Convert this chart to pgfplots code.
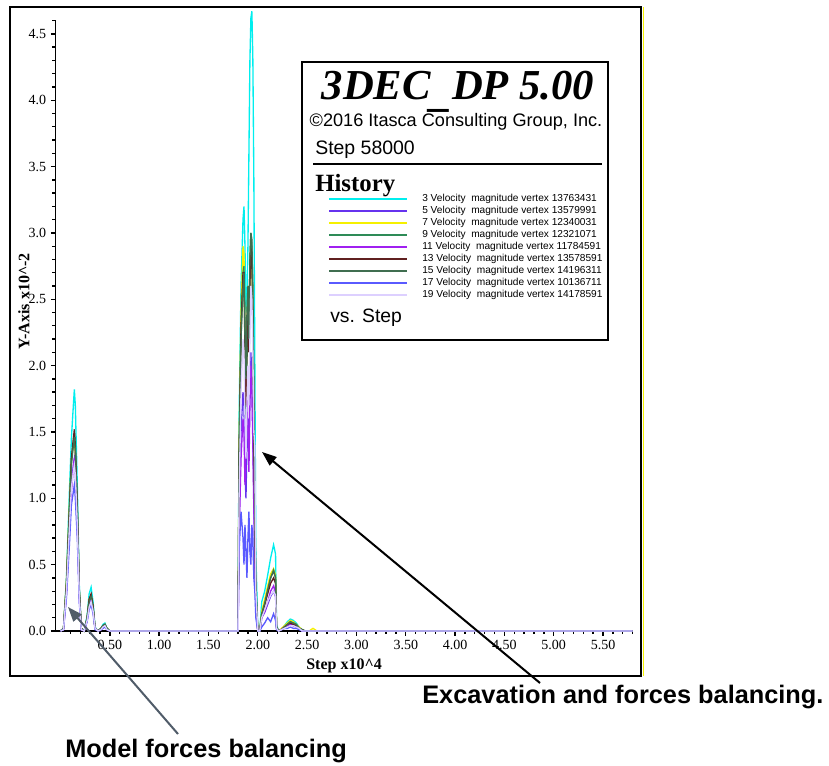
\documentclass[border=0pt]{standalone}
\usepackage{fontspec}
\setmainfont{Liberation Serif}
\newfontfamily\arial{Liberation Sans}
\usepackage{pgfplots}
\pgfplotsset{compat=1.18}
\usepackage{pgfplotstable}
\usetikzlibrary{arrows.meta}

\definecolor{c3}{RGB}{0,238,238}
\definecolor{c5}{RGB}{102,51,238}
\definecolor{c7}{RGB}{245,240,0}
\definecolor{c9}{RGB}{46,139,87}
\definecolor{c11}{RGB}{160,32,240}
\definecolor{c13}{RGB}{96,32,32}
\definecolor{c15}{RGB}{64,110,80}
\definecolor{c17}{RGB}{90,90,255}
\definecolor{c19}{RGB}{221,208,255}
\definecolor{arrowgray}{RGB}{80,92,105}

\pgfplotstableread{
x    c3   c5   c7   c9   c11  c13  c15  c17  c19
0.00 0    0    0    0    0    0    0    0    0
0.03 0.02 0.01 0.02 0.02 0.01 0.02 0.02 0.01 0.01
0.06 0.40 0.30 0.38 0.35 0.28 0.36 0.34 0.25 0.30
0.09 1.05 0.80 0.95 0.90 0.75 0.92 0.88 0.65 0.78
0.11 1.45 1.10 1.30 1.28 1.05 1.30 1.25 0.95 1.08
0.13 1.70 1.25 1.40 1.42 1.22 1.45 1.40 1.05 1.20
0.14 1.82 1.30 1.42 1.48 1.30 1.52 1.46 1.10 1.25
0.15 1.70 1.20 1.35 1.38 1.22 1.40 1.36 1.00 1.18
0.17 1.10 0.80 0.90 0.92 0.82 0.95 0.90 0.70 0.80
0.19 0.35 0.25 0.30 0.30 0.26 0.32 0.30 0.22 0.25
0.21 0.02 0.01 0.02 0.02 0.01 0.02 0.02 0.01 0.01
0.24 0    0    0    0    0    0    0    0    0
0.27 0.12 0.08 0.10 0.10 0.08 0.10 0.10 0.07 0.08
0.29 0.28 0.20 0.24 0.23 0.19 0.24 0.22 0.16 0.18
0.31 0.33 0.24 0.27 0.27 0.23 0.28 0.26 0.20 0.22
0.33 0.22 0.16 0.18 0.18 0.15 0.19 0.17 0.13 0.15
0.35 0.03 0.02 0.02 0.02 0.02 0.02 0.02 0.01 0.02
0.38 0    0    0    0    0    0    0    0    0
0.41 0.02 0.01 0.02 0.02 0.01 0.02 0.02 0.01 0.01
0.43 0.05 0.03 0.04 0.04 0.03 0.04 0.04 0.02 0.03
0.45 0.06 0.04 0.05 0.05 0.04 0.05 0.05 0.03 0.04
0.47 0.02 0.01 0.02 0.02 0.01 0.02 0.02 0.01 0.01
0.50 0    0    0    0    0    0    0    0    0
1.78 0    0    0    0    0    0    0    0    0
1.80 0    0    0    0    0    0    0    0    0
1.81 1.6  0.8  1.4  1.2  0.7  1.3  1.3  0.6  1.0
1.83 2.6  1.5  2.4  2.2  1.3  2.3  2.2  0.9  1.8
1.85 3.1  1.8  2.9  2.7  1.6  2.7  2.6  0.7  2.2
1.86 3.2  1.7  2.85 2.75 1.5  2.7  2.7  0.5  2.1
1.87 2.9  1.2  2.2  2.3  1.1  2.1  2.2  0.8  1.6
1.88 2.4  1.0  1.8  1.6  1.4  1.7  1.9  0.6  1.3
1.89 2.5  1.4  2.3  2.0  1.8  2.2  2.4  0.4  1.7
1.90 2.9  1.6  2.6  2.5  1.5  2.5  2.6  0.7  2.0
1.91 3.6  1.3  2.3  2.2  1.2  2.1  2.2  0.9  1.7
1.92 4.3  1.9  2.7  2.8  1.7  2.6  2.8  0.6  2.2
1.93 4.62 2.1  2.95 3.0  2.0  2.9  3.0  0.5  2.6
1.94 4.67 1.9  2.8  2.9  1.8  2.8  2.95 0.8  2.5
1.95 4.3  1.5  2.4  2.6  1.4  2.3  2.5  0.7  2.1
1.96 3.4  1.0  1.6  1.8  0.9  1.5  1.7  0.4  1.5
1.97 2.0  0.5  0.8  1.0  0.6  0.8  0.9  0.3  1.4
1.98 0.6  0.2  0.3  0.4  0.2  0.3  0.35 0.1  0.3
2.00 0    0    0    0    0    0    0    0    0
2.02 0    0    0    0    0    0    0    0    0
2.04 0.22 0.10 0.15 0.12 0.10 0.12 0.13 0.03 0.10
2.07 0.30 0.14 0.24 0.20 0.15 0.20 0.21 0.06 0.16
2.10 0.42 0.20 0.34 0.30 0.22 0.28 0.31 0.10 0.22
2.13 0.55 0.26 0.43 0.40 0.30 0.36 0.40 0.07 0.27
2.16 0.65 0.30 0.47 0.46 0.34 0.40 0.45 0.13 0.30
2.18 0.58 0.26 0.42 0.40 0.29 0.36 0.40 0.08 0.27
2.19 0.05 0.02 0.03 0.03 0.02 0.03 0.03 0.01 0.02
2.21 0    0    0    0    0    0    0    0    0
2.24 0.01 0.01 0.02 0.01 0.01 0.01 0.01 0.01 0.01
2.27 0.04 0.02 0.04 0.03 0.03 0.03 0.03 0.02 0.02
2.30 0.07 0.04 0.06 0.05 0.04 0.05 0.05 0.02 0.03
2.33 0.09 0.05 0.08 0.07 0.05 0.06 0.07 0.03 0.04
2.36 0.08 0.04 0.07 0.06 0.04 0.05 0.06 0.02 0.04
2.39 0.06 0.03 0.05 0.05 0.03 0.04 0.05 0.02 0.03
2.42 0.03 0.02 0.03 0.02 0.02 0.02 0.02 0.01 0.02
2.45 0.01 0    0.01 0.01 0    0.01 0.01 0    0
2.48 0    0    0    0    0    0    0    0    0
2.52 0    0    0    0    0    0    0    0    0
2.56 0    0    0.02 0    0    0    0    0    0
2.60 0    0    0    0    0    0    0    0    0
5.80 0    0    0    0    0    0    0    0    0
}\hist

\begin{document}
\begin{tikzpicture}
\begin{axis}[
  at={(41.7pt,100.5pt)}, anchor=south west,
  scale only axis, width=432.75pt, height=457.8pt,
  xmin=-0.05, xmax=5.8, ymin=0, ymax=4.6,
  clip=false,
  axis x line=bottom, axis y line=left,
  axis line style={-, line width=1.1pt, black},
  tick align=outside,
  major tick length=3.6pt, minor tick length=2.4pt,
  every tick/.style={black, line width=1pt},
  xtick={0.5,1.0,...,5.5},
  minor xtick={0.1,0.2,...,5.75},
  ytick={0,0.5,...,4.5},
  minor ytick={0.1,0.2,...,4.55},
  /pgf/number format/assume math mode=true,
  xticklabel style={font=\fontsize{10.5}{12}\selectfont, /pgf/number format/.cd, fixed, fixed zerofill, precision=2},
  yticklabel style={font=\fontsize{10.5}{12}\selectfont, /pgf/number format/.cd, fixed, fixed zerofill, precision=1},
  xlabel={Step x10\textasciicircum 4},
  ylabel={Y-Axis x10\textasciicircum -2},
  xlabel style={font=\fontsize{12}{14}\selectfont\bfseries},
  ylabel style={font=\fontsize{12}{14}\selectfont\bfseries, at={(axis description cs:-0.055,0.54)}, anchor=center},
  every axis plot/.append style={line width=1pt},
]
\addplot[c3]  table[x=x,y=c3]{\hist};
\addplot[c5]  table[x=x,y=c5]{\hist};
\addplot[c7]  table[x=x,y=c7]{\hist};
\addplot[c9]  table[x=x,y=c9]{\hist};
\addplot[c11] table[x=x,y=c11]{\hist};
\addplot[c13] table[x=x,y=c13]{\hist};
\addplot[c15] table[x=x,y=c15]{\hist};
\addplot[c17] table[x=x,y=c17]{\hist};
\addplot[c19] table[x=x,y=c19]{\hist};
\end{axis}
\begin{scope}[x=0.75pt,y=0.75pt]
  % outer frame
  \draw[line width=1.5pt] (10,758) rectangle (641,89);
  \draw[c7, line width=0.8pt] (643.5,758) -- (643.5,89);
  % legend box
  \draw[line width=1.2pt, fill=white] (302,703) rectangle (608,425);
  \node[anchor=base, inner sep=0] at (458,665) {\fontsize{32}{34}\selectfont\bfseries\itshape 3DEC\raisebox{-5pt}{\_}DP 5.00};
  \node[anchor=base, inner sep=0] at (456,638) {\arial\fontsize{13.6}{15}\selectfont ©2016 Itasca Consulting Group, Inc.};
  \node[anchor=base west, inner sep=0] at (315,610) {\arial\fontsize{14.6}{16}\selectfont Step 58000};
  \draw[line width=1.4pt] (313,601) -- (602,601);
  \node[anchor=base west, inner sep=0] at (315,573) {\fontsize{18.6}{20}\selectfont\bfseries History};
  \draw[c3,  line width=1.5pt] (329,566) -- (407,566);
  \draw[c5,  line width=1.5pt] (329,554) -- (407,554);
  \draw[c7,  line width=1.5pt] (329,542) -- (407,542);
  \draw[c9,  line width=1.5pt] (329,530) -- (407,530);
  \draw[c11, line width=1.5pt] (329,518) -- (407,518);
  \draw[c13, line width=1.5pt] (329,506) -- (407,506);
  \draw[c15, line width=1.5pt] (329,494) -- (407,494);
  \draw[c17, line width=1.5pt] (329,482) -- (407,482);
  \draw[c19, line width=1.5pt] (329,470) -- (407,470);
  \begin{scope}[every node/.style={anchor=west, inner sep=0, font=\arial\fontsize{7.6}{8}\selectfont}]
    \node at (422,566) {3 Velocity\ \ magnitude vertex 13763431};
    \node at (422,554) {5 Velocity\ \ magnitude vertex 13579991};
    \node at (422,542) {7 Velocity\ \ magnitude vertex 12340031};
    \node at (422,530) {9 Velocity\ \ magnitude vertex 12321071};
    \node at (422,518) {11 Velocity\ \ magnitude vertex 11784591};
    \node at (422,506) {13 Velocity\ \ magnitude vertex 13578591};
    \node at (422,494) {15 Velocity\ \ magnitude vertex 14196311};
    \node at (422,482) {17 Velocity\ \ magnitude vertex 10136711};
    \node at (422,470) {19 Velocity\ \ magnitude vertex 14178591};
  \end{scope}
  \node[anchor=base west, inner sep=0] at (330,442) {\arial\fontsize{14.5}{16}\selectfont vs. Step};
  % annotations
  \draw[line width=1.5pt, -{Triangle[length=11pt,width=8pt]}] (540,82) -- (262,313);
  \draw[arrowgray, line width=1.5pt, -{Triangle[length=11pt,width=8pt]}] (178,31) -- (68,158);
  \node[anchor=base west, inner sep=0] at (422,62) {\arial\fontsize{19}{21}\selectfont\bfseries Excavation and forces balancing.};
  \node[anchor=base west, inner sep=0] at (65,8) {\arial\fontsize{19}{21}\selectfont\bfseries Model forces balancing};
  \pgfresetboundingbox
  \path[use as bounding box] (0,0) rectangle (829,765);
\end{scope}
\end{tikzpicture}
\end{document}
